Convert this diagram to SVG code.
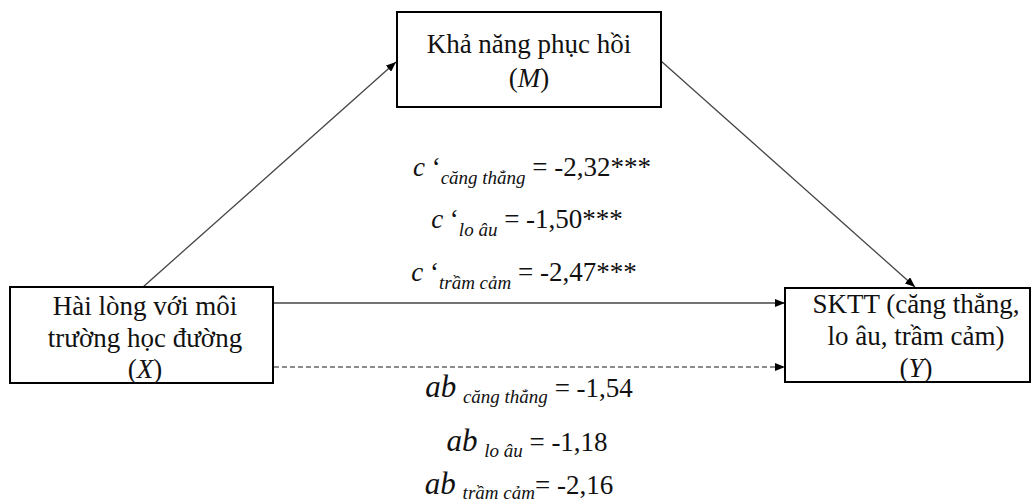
<svg xmlns="http://www.w3.org/2000/svg" width="1036" height="501" viewBox="0 0 1036 501">
<style>
text{font-family:'Liberation Serif',serif;fill:#111;text-anchor:middle}
.t{font-size:27px}
.eq{font-size:27px}
.i{font-style:italic}
.sub{font-style:italic;font-size:19px}
.ab{font-style:italic;font-size:31px}
.box{fill:#fff;stroke:#000;stroke-width:2}
.ln{stroke:#444;stroke-width:1.3;fill:none}
.dash{stroke:#666;stroke-width:1.5;stroke-dasharray:5 3;fill:none}
</style>
<defs>
<marker id="arr" markerWidth="10" markerHeight="8" refX="10" refY="4" orient="auto" markerUnits="userSpaceOnUse">
<path d="M0,0 L10,4 L0,8 Z" fill="#000"/>
</marker>
</defs>
<rect width="1036" height="501" fill="#fff"/>
<g id="connectors">
<line class="ln" x1="143" y1="287" x2="396" y2="62" marker-end="url(#arr)"/>
<line class="ln" x1="661" y1="61" x2="915" y2="287" marker-end="url(#arr)"/>
<line class="ln" x1="274" y1="303" x2="785" y2="303" marker-end="url(#arr)"/>
<line class="dash" x1="274" y1="367" x2="785" y2="367" marker-end="url(#arr)"/>
</g>
<g id="node-M">
<rect class="box" x="397" y="12" width="264" height="95"/>
<text class="t" x="529" y="53">Khả năng phục hồi</text>
<text class="t" x="529" y="87">(<tspan class="i">M</tspan>)</text>
</g>
<g id="node-X">
<rect class="box" x="10" y="287" width="263" height="96"/>
<text class="t" x="145" y="315">Hài lòng với môi</text>
<text class="t" x="145" y="347">trường học đường</text>
<text class="t" x="145" y="378">(<tspan class="i">X</tspan>)</text>
</g>
<g id="node-Y">
<rect class="box" x="785" y="288" width="245" height="94"/>
<text class="t" x="916" y="313">SKTT (căng thẳng,</text>
<text class="t" x="916" y="345">lo âu, trầm cảm)</text>
<text class="t" x="916" y="377">(<tspan class="i">Y</tspan>)</text>
</g>
<g id="labels">
<text class="eq" x="532" y="176"><tspan class="i">c</tspan> ‘<tspan class="sub" dy="8">căng thẳng</tspan><tspan dy="-8"> = -2,32***</tspan></text>
<text class="eq" x="527" y="228"><tspan class="i">c</tspan> ‘<tspan class="sub" dy="8">lo âu</tspan><tspan dy="-8"> = -1,50***</tspan></text>
<text class="eq" x="524" y="281"><tspan class="i">c</tspan> ‘<tspan class="sub" dy="8">trầm cảm</tspan><tspan dy="-8"> = -2,47***</tspan></text>
<text class="eq" x="529" y="397"><tspan class="ab">ab</tspan> <tspan class="sub" dy="6">căng thẳng</tspan><tspan dy="-6"> = -1,54</tspan></text>
<text class="eq" x="527" y="451"><tspan class="ab">ab</tspan> <tspan class="sub" dy="6">lo âu</tspan><tspan dy="-6"> = -1,18</tspan></text>
<text class="eq" x="519" y="494"><tspan class="ab">ab</tspan> <tspan class="sub" dy="5">trầm cảm</tspan><tspan dy="-5">= -2,16</tspan></text>
</g>
</svg>
